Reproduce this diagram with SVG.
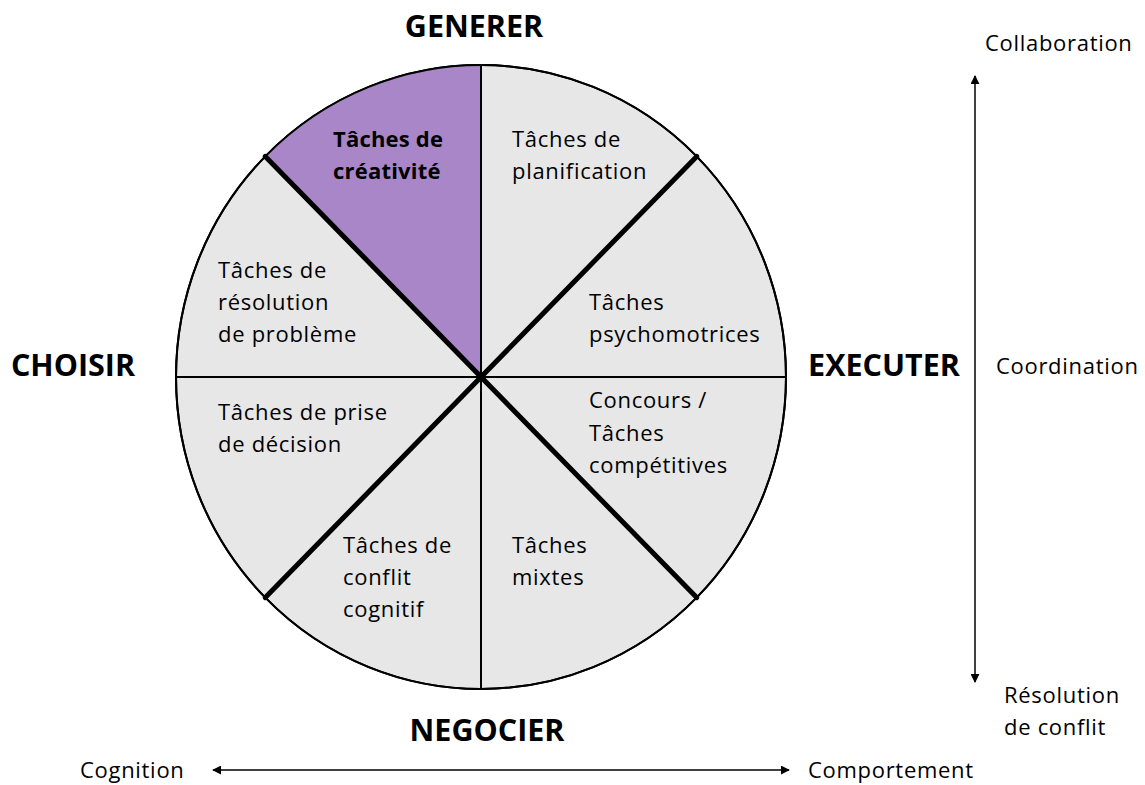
<svg xmlns="http://www.w3.org/2000/svg" width="1145" height="785" viewBox="0 0 1145 785">
<defs>
<style>
.lbl{font-family:"Open Sans","Liberation Sans",sans-serif;font-size:22px;letter-spacing:0.7px;fill:#000}
.b{font-weight:bold;letter-spacing:0.2px}
.ttl{font-family:"Open Sans","Liberation Sans",sans-serif;font-size:30.5px;font-weight:bold;fill:#000}
.thin{stroke:#000;stroke-width:2;fill:none}
.thick{stroke:#000;stroke-width:5;fill:none;stroke-linecap:round}
.arr{stroke:#000;stroke-width:1.5;fill:none}
</style>
<marker id="ah" viewBox="0 0 10 10" refX="9" refY="5" markerWidth="9" markerHeight="9" markerUnits="userSpaceOnUse" orient="auto-start-reverse">
<path d="M0,0 L10,5 L0,10 Z" fill="#000"/>
</marker>
</defs>
<rect width="1145" height="785" fill="#fff"/>
<g id="wheel">
<ellipse cx="481" cy="377" rx="305" ry="312" fill="#E7E7E7" stroke="#000" stroke-width="2"/>
<path d="M481,377 L481,65 A305,312 0 0 0 265.3,156.4 Z" fill="#A886C8"/>
<ellipse cx="481" cy="377" rx="305" ry="312" fill="none" stroke="#000" stroke-width="2"/>
</g>
<g id="connectors">
<line class="thin" x1="481" y1="65" x2="481" y2="689"/>
<line class="thin" x1="176" y1="377" x2="786" y2="377"/>
<line class="thick" x1="265.3" y1="156.4" x2="696.7" y2="597.6"/>
<line class="thick" x1="696.7" y1="156.4" x2="265.3" y2="597.6"/>
<line class="arr" x1="975" y1="378" x2="975" y2="76" marker-end="url(#ah)"/>
<line class="arr" x1="975" y1="378" x2="975" y2="682" marker-end="url(#ah)"/>
<line class="arr" x1="500" y1="770" x2="213" y2="770" marker-end="url(#ah)"/>
<line class="arr" x1="500" y1="770" x2="789" y2="770" marker-end="url(#ah)"/>
</g>
<g id="creativite"><text class="lbl b" x="333" y="147">Tâches de</text><text class="lbl b" x="333" y="179">créativité</text></g>
<g id="planification"><text class="lbl" x="512" y="147">Tâches de</text><text class="lbl" x="512" y="179">planification</text></g>
<g id="resolution"><text class="lbl" x="218" y="278">Tâches de</text><text class="lbl" x="218" y="310">résolution</text><text class="lbl" x="218" y="342">de problème</text></g>
<g id="psychomotrices"><text class="lbl" x="589" y="310">Tâches</text><text class="lbl" x="589" y="342">psychomotrices</text></g>
<g id="decision"><text class="lbl" x="218" y="420">Tâches de prise</text><text class="lbl" x="218" y="452">de décision</text></g>
<g id="concours"><text class="lbl" x="589" y="408">Concours /</text><text class="lbl" x="589" y="441">Tâches</text><text class="lbl" x="589" y="473">compétitives</text></g>
<g id="conflit"><text class="lbl" x="343" y="553">Tâches de</text><text class="lbl" x="343" y="585">conflit</text><text class="lbl" x="343" y="617">cognitif</text></g>
<g id="mixtes"><text class="lbl" x="512" y="553">Tâches</text><text class="lbl" x="512" y="585">mixtes</text></g>
<g id="generer"><text class="ttl" x="474" y="37" text-anchor="middle">GENERER</text></g>
<g id="choisir"><text class="ttl" x="73" y="376" text-anchor="middle">CHOISIR</text></g>
<g id="executer"><text class="ttl" x="884" y="376" text-anchor="middle">EXECUTER</text></g>
<g id="negocier"><text class="ttl" x="487" y="741" text-anchor="middle">NEGOCIER</text></g>
<g id="collaboration"><text class="lbl" x="985" y="51">Collaboration</text></g>
<g id="coordination"><text class="lbl" x="996" y="374">Coordination</text></g>
<g id="resconflit"><text class="lbl" x="1004" y="703">Résolution</text><text class="lbl" x="1004" y="735">de conflit</text></g>
<g id="cognition"><text class="lbl" x="80" y="778">Cognition</text></g>
<g id="comportement"><text class="lbl" x="808" y="778">Comportement</text></g>
</svg>
